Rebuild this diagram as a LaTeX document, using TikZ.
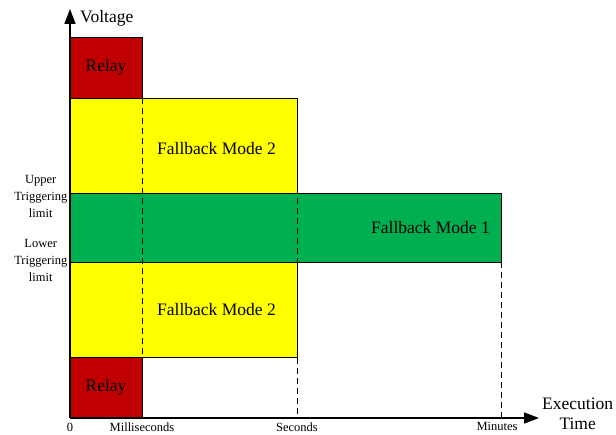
\documentclass[tikz,border=0pt]{standalone}
\usepackage{fontspec}
\setmainfont{Liberation Serif}
\usetikzlibrary{positioning, arrows.meta, calc}
\definecolor{relayRed}{HTML}{C00000}
\definecolor{fbYellow}{HTML}{FFFF00}
\definecolor{fbGreen}{HTML}{00B050}

\begin{document}
\begin{tikzpicture}[
    x=1pt, y=-1pt,
    box/.style={draw, line width=0.8pt, inner sep=0pt, outer sep=0pt, anchor=north west},
    big_label/.style={font=\fontsize{17.5}{20}\selectfont, inner sep=1pt},
    tick_label/.style={font=\fontsize{12.5}{17}\selectfont, inner sep=0.5pt, align=center},
    axis/.style={line width=1.6pt, -{Triangle[length=15pt, width=11pt]}},
    guide/.style={line width=0.7pt, dash pattern=on 6pt off 4pt}
]
\useasboundingbox (0,0) rectangle (616,435);

% boxes
\node[box, fill=relayRed, minimum width=72pt, minimum height=61pt] (relay_top) at (70,37) {};
\node[box, fill=fbYellow, minimum width=227pt, minimum height=95pt] (fb_top) at (70,98) {};
\node[box, fill=fbGreen, minimum width=431pt, minimum height=69pt] (fb_one) at (70,193) {};
\node[box, fill=fbYellow, minimum width=227pt, minimum height=95pt] (fb_bot) at (70,262) {};
\node[box, fill=relayRed, minimum width=72pt, minimum height=61pt] (relay_bot) at (70,357) {};

\node[big_label] (relay_top_txt) at (relay_top.center) {Relay};
\node[big_label] (relay_bot_txt) at (relay_bot.center) {Relay};
\node[big_label] (fb_top_txt) at ($(fb_top.center)+(33,3)$) {Fallback Mode 2};
\node[big_label] (fb_bot_txt) at ($(fb_bot.center)+(33,0)$) {Fallback Mode 2};
\node[big_label, left=10pt of fb_one.east] (fb_one_txt) {Fallback Mode 1};

% axes
\coordinate (O) at (70,418);
\coordinate (y_tip) at (70,9);
\coordinate (x_tip) at (539,418);
\coordinate (ms) at (142,418);
\coordinate (sec) at (297,418);
\coordinate (mins) at (501,418);

% time marks
\draw[guide] (relay_top.south east) -- (relay_bot.north east);
\draw[guide] (fb_top.north east) -- (sec);
\draw[guide] (fb_one.south east) -- (mins);

\draw[axis] (O) -- (y_tip);
\draw[axis] (O) -- (x_tip);

\node[big_label, anchor=west] (v_lbl) at (79,18) {Voltage};
\node[big_label, align=center, anchor=west, font=\fontsize{17.5}{20}\selectfont] (t_lbl) at (541,414) {Execution\\Time};

\node[tick_label, below=4pt of O] (zero_lbl) {0};
\node[tick_label, below=4pt of ms] (ms_lbl) {Milliseconds};
\node[tick_label, below=4pt of sec] (sec_lbl) {Seconds};
\node[tick_label, below=4pt of mins, xshift=-4pt] (min_lbl) {Minutes};

\node[tick_label, left=2pt of fb_one.north west, yshift=-3pt] (upper_lbl) {Upper\\Triggering\\limit};
\node[tick_label, left=2pt of fb_one.south west, yshift=2pt] (lower_lbl) {Lower\\Triggering\\limit};
\end{tikzpicture}
\end{document}
